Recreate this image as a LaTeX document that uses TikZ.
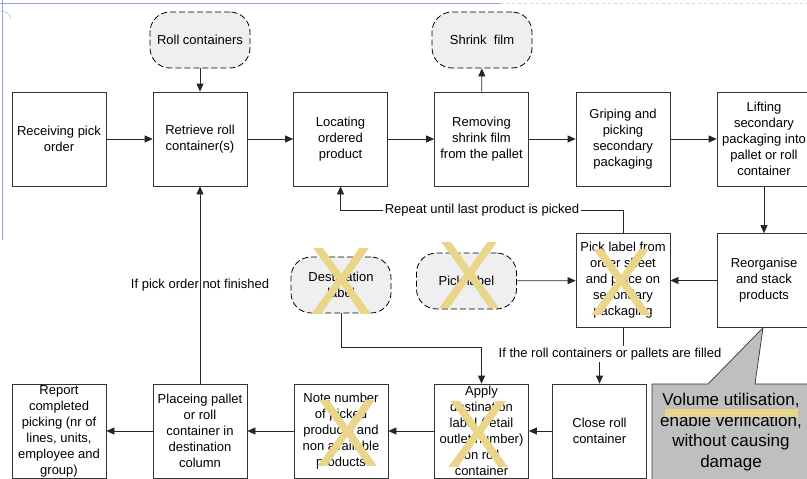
\documentclass[tikz,border=0pt]{standalone}
\usepackage{fontspec}
\setmainfont{Liberation Sans}
\usepackage{tikz}
\usetikzlibrary{calc,arrows.meta}
\definecolor{xmark}{RGB}{233,214,138}
\definecolor{cloudgray}{RGB}{239,239,239}
\definecolor{guideblue}{RGB}{150,160,240}
\newcommand\crossOut[2]{%
  \node[text=xmark,inner sep=0pt,font=\fontsize{96}{96}\selectfont] (#1) at (#2) {X};}

\begin{document}
\begin{tikzpicture}[x=1pt,y=-1pt,
  font=\fontsize{13}{16}\selectfont,
  procbox/.style={draw=black!80,line width=0.7pt,fill=white,minimum width=94pt,
    minimum height=94pt,align=center,inner sep=1pt},
  supply/.style={draw=black,line width=0.8pt,dash pattern=on 6pt off 3pt,fill=cloudgray,
    rounded corners=20pt,minimum width=100pt,minimum height=56pt,align=center},
  flow/.style={draw=black!85,line width=0.7pt,-{Triangle[length=8pt,width=7pt]}},
  cond/.style={fill=white,inner sep=1.5pt}]
  \useasboundingbox (0,0) rectangle (807,479);

  %% page guides
  \draw[guideblue] (0,3) -- (500,3);
  \draw[guideblue!50,dashed] (500,3) -- (807,3);
  \draw[guideblue] (2,0) -- (2,240);
  \draw[guideblue] (0,11) arc (270:360:11 and 8);

  %% Upper row of steps
  \node[procbox] (RECEIVE)  at (59,139)  {Receiving pick\\order};
  \node[procbox] (RETRIEVE) at (200,139) {Retrieve roll\\container(s)};
  \node[procbox] (LOCATE)   at (340.5,139) {Locating\\ordered\\product};
  \node[procbox] (UNWRAP)   at (481.5,139) {Removing\\shrink film\\from the pallet};
  \node[procbox] (GRIP)     at (623,139) {Griping and\\picking\\secondary\\packaging};
  \node[procbox] (LIFT)     at (764,139) {Lifting\\secondary\\packaging into\\pallet or roll\\container};

  %% Middle row
  \node[procbox] (PICKLBL)  at (623,280.5) {Pick label from\\order sheet\\and place on\\secondary\\packaging};
  \node[procbox] (REORG)    at (764,280.5) {Reorganise\\and stack\\products};

  %% Lower row
  \node[procbox] (REPORT)   at (59,431)  {Report\\completed\\picking (nr of\\lines, units,\\employee and\\group)};
  \node[procbox] (PLACE)    at (200,431) {Placeing pallet\\or roll\\container in\\destination\\column};
  \node[procbox] (NOTE)     at (341,431) {Note number\\of picked\\products and\\non available\\products};
  \node[procbox] (APPLY)    at (481.5,431) {Apply\\destination\\label (retail\\outlet number)\\on roll\\container};
  \node[procbox] (CLOSE)    at (599.5,431) {Close roll\\container};

  %% Supplies
  \node[supply] (ROLLC)  at (200,40)  {Roll containers};
  \node[supply] (FILM)   at (482,40)  {Shrink\ \ film};
  \node[supply] (DESTL)  at (341,285) {Destination\\label};
  \node[supply] (PLABEL) at (466.5,281) {Pick label};

  %% Main flow
  \foreach \a/\b in {RECEIVE/RETRIEVE, RETRIEVE/LOCATE, LOCATE/UNWRAP, UNWRAP/GRIP,
                     GRIP/LIFT, REORG/PICKLBL, PLABEL/PICKLBL, CLOSE/APPLY,
                     APPLY/NOTE, NOTE/PLACE, PLACE/REPORT}
  {
    \path[flow] (\a) -- (\b);
  }
  \path[flow] (ROLLC) -- (RETRIEVE);
  \path[flow] (UNWRAP) -- (FILM);
  \path[flow] (LIFT) -- (REORG);

  %% Loops and conditions
  \node[cond] (REPEAT) at (482,210) {Repeat until last product is picked};
  \draw[black!85,line width=0.7pt] (PICKLBL.north) |- (REPEAT.east);
  \path[flow] (REPEAT.west) -| (LOCATE.south);

  \node[cond] (FILLED) at (610,354) {If the roll containers or pallets are filled};
  \draw[black!85,line width=0.7pt] (PICKLBL.south) -- (FILLED.north -| PICKLBL.south);
  \path[flow] (FILLED.south -| CLOSE.north) -- (CLOSE.north);

  \node[cond] (NOTDONE) at (200,285) {If pick order not finished};
  \path[flow] (PLACE.north) -- (RETRIEVE.south);

  \coordinate (DESTTURN) at ($(DESTL.south)+(0,34)$);
  \path[flow] (DESTL.south) -- (DESTTURN) -| (APPLY.north);

  %% Comment on reorganising
  \coordinate (TIP) at ($(REORG.south)+(-1,0)$);
  \draw[black!80,line width=0.7pt,fill=black!25] (652,384) -- (708,384) -- (TIP) -- (755,384)
    -- (812,384) -- (812,482) -- (652,482) -- cycle;
  \node[align=center,font=\fontsize{17}{20.5}\selectfont] (NOTEVOL) at (731,432)
    {Volume utilisation,\\enable verification,\\without causing\\damage};
  \fill[xmark] (665,409) rectangle (798,417);

  %% Crossed out steps
  \crossOut{XDEST}{342,281}
  \crossOut{XPLABEL}{470,275}
  \crossOut{XPICK}{622,282}
  \crossOut{XNOTE}{348,433}
  \crossOut{XAPPLY}{479,434}
\end{tikzpicture}
\end{document}
